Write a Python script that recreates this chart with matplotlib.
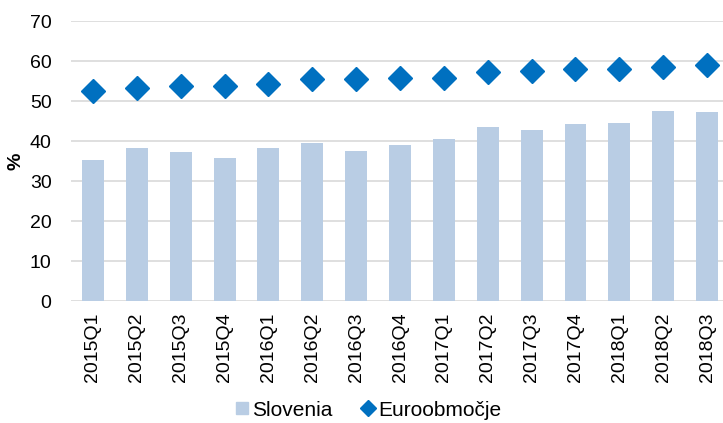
import matplotlib.pyplot as plt
from matplotlib.lines import Line2D
import numpy as np

plt.rcParams['font.family'] = ['Liberation Sans', 'DejaVu Sans']

# četrtletja
quarters = ['2015Q1', '2015Q2', '2015Q3', '2015Q4',
            '2016Q1', '2016Q2', '2016Q3', '2016Q4',
            '2017Q1', '2017Q2', '2017Q3', '2017Q4',
            '2018Q1', '2018Q2', '2018Q3']
slovenia = [35.3, 38.3, 37.2, 35.8, 38.3, 39.5, 37.5, 38.9,
            40.5, 43.5, 42.8, 44.3, 44.4, 47.5, 47.3]
euro = [52.5, 53.2, 53.8, 53.8, 54.3, 55.4, 55.6, 55.8,
        55.8, 57.2, 57.4, 58.0, 57.9, 58.6, 59.1]
yticks = [0, 10, 20, 30, 40, 50, 60, 70]

bar_color = '#b9cde4'
dot_color = '#0070c0'

fig = plt.figure(figsize=(7.23, 4.23), dpi=100)
ax = fig.add_axes([71 / 723, 1 - 301 / 423, 658 / 723, 280 / 423])

x = np.arange(len(quarters))
ax.bar(x, slovenia, width=0.5, color=bar_color, zorder=2)
ax.plot(x, euro, linestyle='none', marker='D', markersize=12,
        color=dot_color, zorder=3)

ax.set_xlim(-0.5, len(quarters) - 0.5)
ax.set_ylim(0, 70)
ax.set_yticks(yticks)
ax.set_xticks(x)
ax.set_xticklabels(quarters, rotation=90, fontsize=14)
ax.tick_params(axis='y', labelsize=14, length=0, pad=14)
ax.tick_params(axis='x', length=0, pad=8)
ax.grid(axis='y', color='#d9d9d9', linewidth=1.2, zorder=0)
ax.set_axisbelow(True)
for s in ax.spines.values():
    s.set_visible(False)

ax.set_ylabel('%', fontsize=14, fontweight='bold', labelpad=4)

handles = [
    Line2D([], [], linestyle='none', marker='s', markersize=9,
           color=bar_color),
    Line2D([], [], linestyle='none', marker='D', markersize=8,
           color=dot_color),
]
fig.legend(handles, ['Slovenia', 'Euroobmočje'], loc='center',
           bbox_to_anchor=(0.51, 1 - 410 / 423), ncol=2, frameon=False,
           fontsize=15, handlelength=0.6, handletextpad=0.2,
           columnspacing=1.4)

fig.savefig('out.png', dpi=100, facecolor='white')
